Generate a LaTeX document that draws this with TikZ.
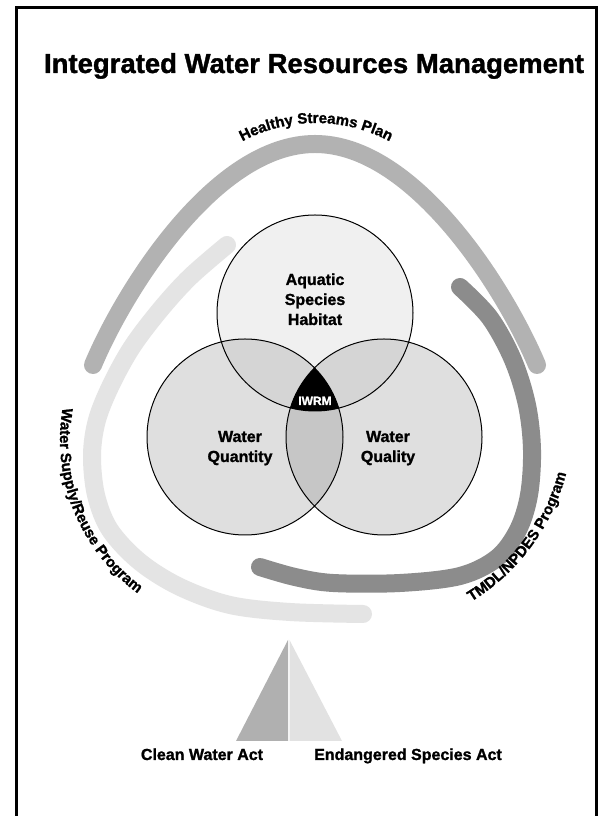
\documentclass[tikz,border=0pt]{standalone}
\usepackage{fontspec}
\setmainfont{Liberation Sans}[BoldFeatures={FakeBold=1.3}]
\usetikzlibrary{decorations.text}
\definecolor{bandmid}{HTML}{B2B2B2}
\definecolor{banddark}{HTML}{8C8C8C}
\definecolor{bandlight}{HTML}{E4E4E4}
\definecolor{vtop}{HTML}{F0F0F0}
\definecolor{vside}{HTML}{DFDFDF}
\definecolor{vlensT}{HTML}{D5D5D5}
\definecolor{vlensLR}{HTML}{C6C6C6}
\definecolor{trileft}{HTML}{B0B0B0}
\definecolor{triright}{HTML}{E2E2E2}
\newcommand\myarcfont{\bfseries\fontsize{15}{15}\selectfont}
\begin{document}
\begin{tikzpicture}[x=1pt,y=1pt,
  band/.style={line width=18pt, line cap=round},
  lbl/.style={font=\bfseries\fontsize{16}{20}\selectfont, anchor=base, inner sep=0pt},
  arctext/.style={decorate, decoration={text along path, text align=center, text={|\myarcfont|#1}}}]
\useasboundingbox (0,0) rectangle (607,816);
\fill[white] (0,0) rectangle (607,816);
% frame
\draw[line width=3pt] (16,-10) -- (16,808) -- (596,808) -- (596,-10);
% title
\node[font=\bfseries\fontsize{27.5}{30}\selectfont, anchor=base, inner sep=0pt] (title) at (314,743) {Integrated Water Resources Management};
% bands
\draw[band, bandmid] (93,451) .. controls (124,525) and (215,672) .. (315,672)
                              .. controls (415,672) and (506,525) .. (537,451);
\draw[band, bandlight] plot[smooth, tension=0.55] coordinates {(227,571) (190,539) (160,506) (132,469) (111,431) (97,396) (92,361) (96,321) (110,286) (140,254) (180,229) (230,211) (290,204) (363,202)};
\draw[band, banddark] plot[smooth, tension=0.55] coordinates {(460,529) (490,498) (513,456) (527,411) (532,366) (529,321) (518,286) (497,258) (460,240) (400,233) (333,233) (295,239) (260,249)};
% band labels
\path[arctext={Healthy Streams Plan}] (316,536) ++(125:157) arc[start angle=125, end angle=55, radius=157];
\path[arctext={Water Supply/Reuse Program}] (250,376) ++(162:190) arc[start angle=162, end angle=242, radius=190];
\path[arctext={TMDL/NPDES Program}] (360,396) ++(-66:213) arc[start angle=-66, end angle=-7, radius=213];
% venn
\coordinate (T) at (315,503);
\coordinate (L) at (245,379);
\coordinate (R) at (384,379);
\fill[vtop] (T) circle (98);
\fill[vside] (L) circle (98);
\fill[vside] (R) circle (98);
\begin{scope}
  \clip (T) circle (98);
  \fill[vlensT] (L) circle (98);
  \fill[vlensT] (R) circle (98);
\end{scope}
\begin{scope}
  \clip (L) circle (98);
  \fill[vlensLR] (R) circle (98);
\end{scope}
\begin{scope}
  \clip (T) circle (98);
  \clip (L) circle (98);
  \fill[black] (R) circle (98);
\end{scope}
\draw[line width=1pt] (T) circle (98) (L) circle (98) (R) circle (98);
% venn labels
\node[lbl] (aq1) at (315,531) {Aquatic};
\node[lbl] (aq2) at (315,511) {Species};
\node[lbl] (aq3) at (315,491) {Habitat};
\node[lbl] (wqn1) at (240,374) {Water};
\node[lbl] (wqn2) at (240,354) {Quantity};
\node[lbl] (wql1) at (388,374) {Water};
\node[lbl] (wql2) at (388,354) {Quality};
\node[lbl, white, font=\bfseries\fontsize{12}{14}\selectfont] (iwrm) at (315,411) {IWRM};
% triangle
\fill[trileft] (288,176) -- (236,75) -- (288,75) -- cycle;
\fill[triright] (289.5,176) -- (289.5,75) -- (342,75) -- cycle;
\node[lbl] (cwa) at (202,56) {Clean Water Act};
\node[lbl] (esa) at (408,56) {Endangered Species Act};
\end{tikzpicture}
\end{document}
